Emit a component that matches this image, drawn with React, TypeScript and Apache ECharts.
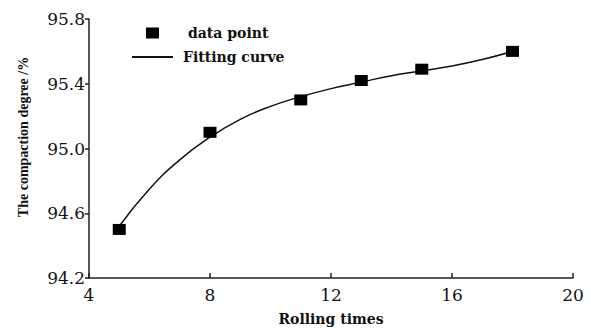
import React, { useEffect, useRef } from "react";
import * as echarts from "echarts";

// Measured data points
const pointX = [5, 8, 11, 13, 15, 18];
const pointY = [94.5, 95.1, 95.3, 95.42, 95.49, 95.6];

// Fitting curve
const curveX = [5, 6, 7, 8, 9, 10, 11, 12, 13, 14, 15, 16, 17, 18];
const curveY = [94.52, 94.75, 94.93, 95.07, 95.18, 95.26, 95.32, 95.37, 95.41, 95.45, 95.48, 95.51, 95.55, 95.6];

// Axis ticks
const xTicks = [4, 8, 12, 16, 20];
const yTicks = [94.2, 94.6, 95.0, 95.4, 95.8];

const Y_BASE = yTicks[0];
const Y_STEP = yTicks[1] - yTicks[0];

const SERIF = "DejaVu Serif";
const TIMES = "Times New Roman";

export default function App() {
  const ref = useRef<HTMLDivElement>(null);

  useEffect(() => {
    if (!ref.current) return;
    const chart = echarts.init(ref.current, undefined, { renderer: "svg" });
    const shift = (v: number) => +(v - Y_BASE).toFixed(4);
    chart.setOption({
      animation: false,
      backgroundColor: "#ffffff",
      textStyle: { fontFamily: SERIF },
      grid: { left: 89, right: 18, top: 19, bottom: 49 },
      legend: [
        {
          data: ["data point"],
          orient: "vertical",
          left: 146,
          top: 26,
          padding: 0,
          itemWidth: 13,
          itemHeight: 11,
          selectedMode: false,
          itemStyle: { opacity: 1 },
          textStyle: {
            fontFamily: SERIF,
            fontWeight: "bold",
            fontSize: 14,
            color: "#111",
            padding: [0, 0, 0, 24],
          },
        },
        {
          data: [{ name: "Fitting curve", icon: "rect" }],
          orient: "vertical",
          left: 132,
          top: 50,
          padding: 0,
          itemWidth: 41,
          itemHeight: 2,
          selectedMode: false,
          itemStyle: { color: "#111", opacity: 1 },
          textStyle: {
            fontFamily: SERIF,
            fontWeight: "bold",
            fontSize: 14,
            color: "#111",
            padding: [0, 0, 0, 5],
          },
        },
      ],
      xAxis: {
        type: "value",
        min: xTicks[0],
        max: xTicks[xTicks.length - 1],
        interval: xTicks[1] - xTicks[0],
        name: "Rolling times",
        nameLocation: "middle",
        nameGap: 34,
        nameTextStyle: {
          fontFamily: SERIF,
          fontWeight: "bold",
          fontSize: 14,
          color: "#111",
        },
        splitLine: { show: false },
        axisLine: { lineStyle: { color: "#222", width: 1.5 } },
        axisTick: { inside: true, length: 5, lineStyle: { color: "#222", width: 1.5 } },
        axisLabel: {
          margin: 8,
          fontFamily: SERIF,
          fontSize: 17,
          color: "#111",
        },
      },
      yAxis: {
        type: "value",
        min: 0,
        max: shift(yTicks[yTicks.length - 1]),
        interval: Y_STEP,
        splitLine: { show: false },
        axisLine: { show: true, lineStyle: { color: "#222", width: 1.5 } },
        axisTick: { show: true, inside: false, length: 4, lineStyle: { color: "#222", width: 1.5 } },
        axisLabel: {
          margin: 4,
          fontFamily: SERIF,
          fontSize: 17,
          color: "#111",
          formatter: (v: number) => (v + Y_BASE).toFixed(1),
        },
      },
      graphic: [
        {
          type: "text",
          x: 23,
          y: 137,
          rotation: Math.PI / 2,
          style: {
            text: "The compaction degree /%",
            fontFamily: TIMES,
            fontWeight: "bold",
            fontSize: 14,
            fill: "#111",
            align: "center",
            verticalAlign: "middle",
          },
        },
      ],
      series: [
        {
          name: "Fitting curve",
          type: "line",
          smooth: true,
          symbol: "none",
          lineStyle: { color: "#111", width: 1.5 },
          itemStyle: { color: "#111" },
          data: curveX.map((x, i) => [x, shift(curveY[i])]),
          z: 2,
        },
        {
          name: "data point",
          type: "scatter",
          symbol: "rect",
          symbolSize: [13, 11],
          itemStyle: { color: "#000", opacity: 1 },
          data: pointX.map((x, i) => [x, shift(pointY[i])]),
          z: 3,
        },
      ],
    });
    return () => chart.dispose();
  }, []);

  return (
    <div
      ref={ref}
      style={{ position: "fixed", left: 0, top: 0, width: 591, height: 331 }}
    />
  );
}
